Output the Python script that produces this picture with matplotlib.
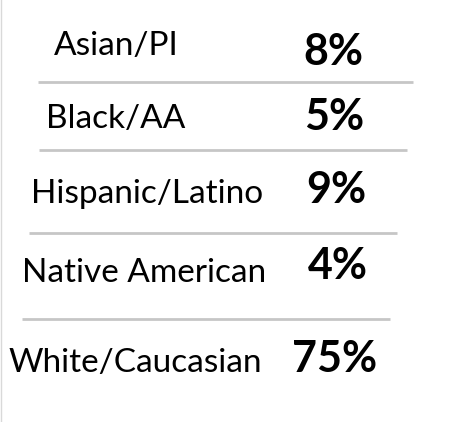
import matplotlib
matplotlib.use('Agg')
import matplotlib.pyplot as plt

# data
groups = ['Asian/PI', 'Black/AA', 'Hispanic/Latino', 'Native American', 'White/Caucasian']
shares = [8, 5, 9, 4, 75]

# layout (pixels, origin top-left)
W, H = 451, 422
label_x = [116, 116, 147, 144, 135]
value_x = [333, 334, 336, 338, 335]
label_y = [55, 128, 203, 282, 372]
value_y = [65, 130, 203, 279, 372]
sep_y = [82, 150, 233, 319]
sep_x0 = [38, 39, 29, 22]
sep_x1 = [413, 407, 397, 390]

fig = plt.figure(figsize=(W / 100, H / 100), dpi=100)
ax = fig.add_axes([0, 0, 1, 1])
ax.set_xlim(0, W)
ax.set_ylim(H, 0)
ax.axis('off')

font = 'Lato'
for i, g in enumerate(groups):
    ax.text(label_x[i], label_y[i], g, ha='center', va='baseline',
            fontsize=24, family=font, color='black')
    ax.text(value_x[i], value_y[i], f'{shares[i]}%', ha='center', va='baseline',
            fontsize=31, family=font, fontweight='bold', color='black')

for y, a, b in zip(sep_y, sep_x0, sep_x1):
    ax.plot([a, b], [y, y], color='#c6c6c6', lw=2, solid_capstyle='butt')

# faint left border
ax.plot([0.8, 0.8], [0, H], color='#d9d9d9', lw=1)

fig.savefig('out.png', dpi=100)
